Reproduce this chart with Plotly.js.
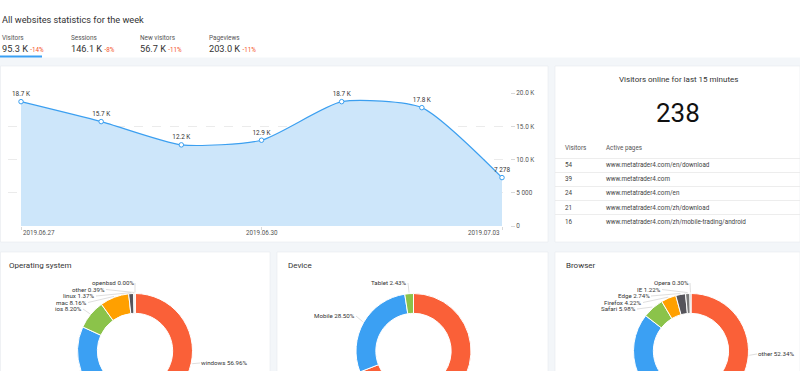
<!DOCTYPE html>
<html><head><meta charset="utf-8">
<script src="https://cdn.plot.ly/plotly-3.0.1.min.js"></script>
<style>html,body{margin:0;padding:0;overflow:hidden;width:800px;height:371px;background:#f3f6f9}#chart{width:800px;height:430px}</style>
</head><body><div id="chart"></div>
<script>
// ---------- data ----------
const tabNames = ['Visitors', 'Sessions', 'New visitors', 'Pageviews'];
const tabValues = ['95.3 K', '146.1 K', '56.7 K', '203.0 K'];
const tabChanges = ['-14%', '-8%', '-11%', '-11%'];

const days = ['2019-06-27', '2019-06-28', '2019-06-29', '2019-06-30', '2019-07-01', '2019-07-02', '2019-07-03'];
const visitors = [18700, 15700, 12200, 12900, 18700, 17800, 7278];
const xTickDays = ['2019-06-27', '2019-06-30', '2019-07-03'];
const xTickLabels = ['2019.06.27', '2019.06.30', '2019.07.03'];
const yTickVals = [0, 5000, 10000, 15000, 20000];
const yTickText = ['0', '5 000', '10.0 K', '15.0 K', '20.0 K'];

const onlineNow = 238;
const onlineVisitors = [54, 39, 24, 21, 16];
const activePages = ['www.metatrader4.com/en/download', 'www.metatrader4.com', 'www.metatrader4.com/en',
  'www.metatrader4.com/zh/download', 'www.metatrader4.com/zh/mobile-trading/android'];

const osLabels = ['windows', 'android', 'ios', 'mac', 'linux', 'other', 'openbsd'];
const osValues = [56.96, 24.92, 8.20, 8.16, 1.37, 0.39, 0.00];
const deviceLabels = ['Desktop', 'Mobile', 'Tablet'];
const deviceValues = [69.07, 28.50, 2.43];
const browserLabels = ['other', 'Chrome', 'Safari', 'Firefox', 'Edge', 'IE', 'Opera'];
const browserValues = [52.34, 33.20, 5.98, 4.22, 2.74, 1.22, 0.30];

// ---------- layout helpers ----------
const W = 800, H = 430;
const X = p => p / W, Y = p => 1 - p / H;
const FONT = 'Roboto, "Open Sans", sans-serif';
const pieColors = ['#fa6038', '#3ba0f3', '#8bc34a', '#ffa000', '#55545b', '#7a7a7a', '#9e9e9e'];

function fmt(v) {
  if (v >= 10000) return (v / 1000).toFixed(1) + ' K';
  return String(v).replace(/\B(?=(\d{3})+(?!\d))/g, ' ');
}
function txt(text, x, y, size, color, xanchor, extra) {
  return Object.assign({text: text, x: X(x), y: Y(y), xref: 'paper', yref: 'paper', showarrow: false,
    xanchor: xanchor || 'left', yanchor: 'middle', font: {family: FONT, size: size, color: color}}, extra || {});
}
function rect(x0, y0, x1, y1, fill, line) {
  return {type: 'rect', xref: 'paper', yref: 'paper', x0: X(x0), x1: X(x1), y0: Y(y1), y1: Y(y0),
    fillcolor: fill, line: line || {width: 0}, layer: 'below'};
}

const shapes = [];
const annotations = [];

// header
shapes.push(rect(0, 0, 800, 57.5, '#ffffff'));
shapes.push(rect(0, 55.5, 42, 57.5, '#3ba0f3'));
annotations.push(txt('All websites statistics for the week', 0, 19, 9.2, '#333'));
const tabX = [0, 69, 138, 207];
tabNames.forEach((n, i) => {
  annotations.push(txt(n, tabX[i], 38, 6.4, '#555'));
  annotations.push(txt(tabValues[i] + ' <span style="font-size:6.3px;color:#f4511e">' + tabChanges[i] + '</span>',
    tabX[i], 48, 9.2, '#333'));
});

// panels
const panelLine = {width: 0.6, color: '#e7ebef'};
shapes.push(rect(0.5, 66, 548, 242, '#ffffff', panelLine));
shapes.push(rect(555, 66, 800, 242, '#ffffff', panelLine));
shapes.push(rect(0.5, 252, 270, H, '#ffffff', panelLine));
shapes.push(rect(277, 252, 548, H, '#ffffff', panelLine));
shapes.push(rect(555, 252, 800, H, '#ffffff', panelLine));

// x tick label annotations
const xAnch = ['left', 'center', 'right'];
xTickDays.forEach((d, i) => {
  annotations.push({text: xTickLabels[i], x: d, y: Y(233), xref: 'x', yref: 'paper', showarrow: false,
    xanchor: xAnch[i], yanchor: 'middle', font: {family: FONT, size: 6.3, color: '#555'}});
});

// online panel
annotations.push(txt('Visitors online for last 15 minutes', 678, 79, 8, '#333', 'center'));
annotations.push(txt(String(onlineNow), 678, 113, 26, '#111', 'center'));
annotations.push(txt('Visitors', 563, 148, 6.3, '#555'));
annotations.push(txt('Active pages', 604, 148, 6.3, '#555'));
const rowY = [165.5, 179.5, 193.5, 207.5, 221.5];
onlineVisitors.forEach((v, i) => {
  annotations.push(txt(String(v), 563, rowY[i], 6.3, '#444'));
  annotations.push(txt(activePages[i], 604, rowY[i], 6.3, '#444'));
  shapes.push({type: 'line', xref: 'paper', yref: 'paper', x0: X(555), x1: X(800), y0: Y(rowY[i] - 7), y1: Y(rowY[i] - 7),
    line: {color: '#e8e8e8', width: 0.8}, layer: 'below'});
});

// bottom titles
annotations.push(txt('Operating system', 7, 265, 8, '#333'));
annotations.push(txt('Device', 286, 265, 8, '#333'));
annotations.push(txt('Browser', 564, 265, 8, '#333'));

// ---------- line chart ----------
const t0 = Date.parse(days[0] + 'T00:00:00Z'), t1 = Date.parse(days[days.length - 1] + 'T00:00:00Z');
const pxPerMs = (502 - 21) / (t1 - t0);
const toStr = t => new Date(t).toISOString().replace('T', ' ').replace('Z', '');
const xRange = [toStr(t0 - 13 / pxPerMs), toStr(t1 + 8 / pxPerMs)];

const traces = [{
  type: 'scatter', x: days, y: visitors, mode: 'lines+markers+text',
  text: visitors.map(fmt), textposition: 'top center',
  textfont: {family: FONT, size: 6.4, color: '#333'},
  line: {color: '#3b9ff0', width: 1.1, shape: 'spline', smoothing: 0.6},
  fill: 'tozeroy', fillcolor: '#cde6fa',
  marker: {size: 4.5, color: '#ffffff', line: {color: '#3b9ff0', width: 1}},
  cliponaxis: false, hoverinfo: 'skip', xaxis: 'x', yaxis: 'y'
}];

// ---------- donuts ----------
function donut(labels, values, cx, cy, R, labelPos) {
  traces.push({
    type: 'pie', labels: labels, values: values, hole: 0.655, sort: false, direction: 'clockwise', rotation: 0,
    textinfo: 'none', hoverinfo: 'skip', showlegend: false,
    marker: {colors: pieColors.slice(0, labels.length), line: {color: '#ffffff', width: 1}},
    domain: {x: [X(cx - R), X(cx + R)], y: [Y(cy + R), Y(cy - R)]}
  });
  const total = values.reduce((a, b) => a + b, 0);
  let cum = 0;
  values.forEach((v, i) => {
    const th = 2 * Math.PI * (cum + v / 2) / total;
    cum += v;
    const px = cx + (R + 1) * Math.sin(th), py = cy - (R + 1) * Math.cos(th);
    const [lx, ly, side] = labelPos[i];
    annotations.push({
      text: labels[i] + ' ' + v.toFixed(2) + '%', x: X(px), y: Y(py), xref: 'paper', yref: 'paper',
      showarrow: true, arrowhead: 0, arrowwidth: 0.6, arrowcolor: '#c8c8c8', standoff: 0,
      ax: lx - px, ay: ly - py, xanchor: side === 'L' ? 'right' : 'left', yanchor: 'middle', borderpad: 0,
      font: {family: FONT, size: 6.2, color: '#333'}
    });
  });
}
// label anchor positions (pixels): [x, y, side]
donut(osLabels, osValues, 135, 351, 57.5,
  [[200, 363, 'R'], [76, 373, 'L'], [83, 309, 'L'], [88, 302.5, 'L'], [96, 296, 'L'], [106, 289.5, 'L'], [135, 283, 'L']]);
donut(deviceLabels, deviceValues, 413.5, 351, 57.5,
  [[478, 395, 'R'], [356, 316, 'L'], [408, 283, 'L']]);
donut(browserLabels, browserValues, 691, 351, 57.5,
  [[757, 354, 'R'], [628, 395, 'L'], [637, 309, 'L'], [643, 302.5, 'L'], [651, 296, 'L'], [662, 289.5, 'L'], [690, 283, 'L']]);

const layout = {
  width: W, height: H, margin: {l: 0, r: 0, t: 0, b: 0},
  paper_bgcolor: '#f3f6f9', plot_bgcolor: '#ffffff', showlegend: false,
  font: {family: FONT},
  xaxis: {type: 'date', domain: [X(8), X(510)], range: xRange, showgrid: false, zeroline: false,
    showticklabels: false, ticks: 'outside', tickvals: xTickDays, ticklen: 3, tickcolor: '#d8d8d8', showline: false, fixedrange: true},
  yaxis: {domain: [Y(226), Y(93)], range: [0, 20000], side: 'right', anchor: 'x', tickvals: yTickVals, ticktext: yTickText,
    showgrid: true, gridcolor: '#e6e6e6', griddash: 'dash', gridwidth: 0.8, zeroline: false, showline: false,
    ticks: 'outside', ticklen: 4, tickcolor: '#d8d8d8', tickfont: {family: FONT, size: 6.4, color: '#555'}, fixedrange: true},
  shapes: shapes, annotations: annotations
};
Plotly.newPlot('chart', traces, layout, {displayModeBar: false, staticPlot: true});
</script></body></html>
